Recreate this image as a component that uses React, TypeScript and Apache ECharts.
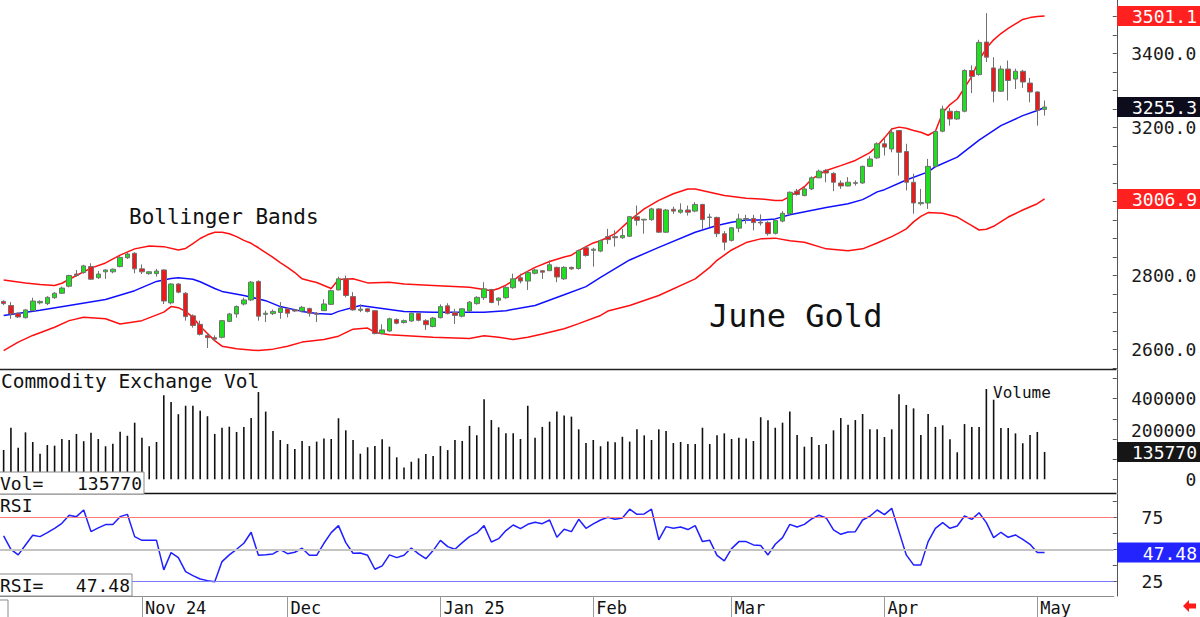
import React, { useEffect, useRef } from 'react';
import * as echarts from 'echarts';

const MONO = '"DejaVu Sans Mono", monospace';

// Trading sessions shown on the chart, grouped by month
const sessionDays: [string, number[]][] = [
  ['2024-10', [7, 8, 9, 10, 11, 14, 15, 16, 17, 18, 21, 22, 23, 24, 25, 28, 29, 30, 31]],
  ['2024-11', [1, 4, 5, 6, 7, 8, 11, 12, 13, 14, 15, 18, 19, 20, 21, 22, 25, 26, 27, 29]],
  ['2024-12', [2, 3, 4, 5, 6, 9, 10, 11, 12, 13, 16, 17, 18, 19, 20, 23, 24, 26, 27, 30, 31]],
  ['2025-01', [2, 3, 6, 7, 8, 9, 10, 13, 14, 15, 16, 17, 21, 22, 23, 24, 27, 28, 29, 30, 31]],
  ['2025-02', [3, 4, 5, 6, 7, 10, 11, 12, 13, 14, 18, 19, 20, 21, 24, 25, 26, 27, 28]],
  ['2025-03', [3, 4, 5, 6, 7, 10, 11, 12, 13, 14, 17, 18, 19, 20, 21, 24, 25, 26, 27, 28, 31]],
  ['2025-04', [1, 2, 3, 4, 7, 8, 9, 10, 11, 14, 15, 16, 17, 21, 22, 23, 24, 25, 28, 29, 30]],
  ['2025-05', [1, 2]],
];
const dates: string[] = sessionDays.flatMap(([m, days]) =>
  days.map((d) => `${m}-${String(d).padStart(2, '0')}`)
);
// empty slots to the right of the last session
const EMPTY_SLOTS = 9;
const categories: string[] = [
  ...dates,
  ...Array.from({ length: EMPTY_SLOTS }, (_, i) => `blank-${i + 1}`),
];

const monthLabels: Record<string, string> = {
  '2024-11': 'Nov 24',
  '2024-12': 'Dec',
  '2025-01': 'Jan 25',
  '2025-02': 'Feb',
  '2025-03': 'Mar',
  '2025-04': 'Apr',
  '2025-05': 'May',
};

// June gold futures, daily OHLC
const opens = [
  2730, 2719, 2698, 2686, 2705, 2726, 2724, 2740, 2752, 2771,
  2804, 2808, 2824, 2794, 2810, 2810, 2824, 2848, 2860, 2818,
  2805, 2805, 2815, 2726, 2777, 2752, 2691, 2668, 2638, 2632,
  2633, 2676, 2696, 2723, 2734, 2784, 2695, 2697, 2700, 2710,
  2707, 2704, 2711, 2698, 2705, 2722, 2761, 2791, 2743, 2706,
  2710, 2705, 2643, 2650, 2681, 2673, 2677, 2698, 2678, 2662,
  2686, 2718, 2700, 2690, 2704, 2724, 2740, 2762, 2733, 2740,
  2767, 2794, 2785, 2806, 2813, 2813, 2822, 2791, 2822, 2819,
  2875, 2868, 2866, 2905, 2905, 2902, 2906, 2959, 2950, 2951,
  2980, 2917, 2979, 2971, 2977, 2974, 2992, 2957, 2957, 2913,
  2895, 2928, 2952, 2954, 2944, 2943, 2914, 2947, 2967, 3028,
  3016, 3034, 3064, 3084, 3076, 3050, 3042, 3049, 3050, 3095,
  3118, 3156, 3142, 3192, 3135, 3052, 2994, 2996, 3095, 3190,
  3244, 3223, 3244, 3354, 3343, 3431, 3361, 3298, 3358, 3331,
  3352, 3320, 3296, 3249,
];
const closes = [
  2724, 2696, 2688, 2707, 2731, 2730, 2741, 2752, 2766, 2800,
  2800, 2826, 2790, 2804, 2815, 2817, 2849, 2858, 2818, 2810,
  2810, 2812, 2731, 2777, 2755, 2689, 2665, 2641, 2632, 2628,
  2678, 2696, 2716, 2734, 2782, 2690, 2698, 2703, 2712, 2698,
  2704, 2714, 2698, 2695, 2723, 2759, 2791, 2746, 2707, 2709,
  2703, 2643, 2653, 2683, 2671, 2678, 2698, 2679, 2667, 2685,
  2716, 2697, 2692, 2710, 2728, 2741, 2764, 2727, 2739, 2768,
  2791, 2785, 2808, 2815, 2809, 2829, 2796, 2822, 2818, 2867,
  2854, 2871, 2894, 2897, 2902, 2908, 2959, 2949, 2952, 2980,
  2917, 2977, 2974, 2977, 2971, 2992, 2951, 2958, 2913, 2890,
  2929, 2953, 2954, 2943, 2942, 2913, 2949, 2968, 3025, 3019,
  3034, 3064, 3082, 3077, 3052, 3042, 3052, 3051, 3095, 3115,
  3156, 3147, 3187, 3133, 3052, 2996, 2997, 3095, 3189, 3250,
  3223, 3243, 3354, 3338, 3430, 3390, 3298, 3358, 3327, 3352,
  3323, 3296, 3246, 3255.3,
];
const lows = [
  2720, 2683, 2685, 2684, 2704, 2722, 2720, 2737, 2750, 2768,
  2797, 2805, 2788, 2791, 2791, 2806, 2822, 2845, 2806, 2804,
  2802, 2797, 2723, 2722, 2752, 2678, 2659, 2638, 2604, 2624,
  2630, 2674, 2686, 2719, 2731, 2678, 2674, 2693, 2683, 2687,
  2701, 2700, 2689, 2674, 2704, 2720, 2760, 2741, 2705, 2701,
  2700, 2641, 2641, 2648, 2668, 2670, 2675, 2676, 2653, 2660,
  2684, 2695, 2669, 2687, 2701, 2721, 2734, 2725, 2719, 2737,
  2764, 2779, 2761, 2803, 2791, 2812, 2782, 2788, 2815, 2816,
  2851, 2824, 2863, 2885, 2878, 2899, 2904, 2935, 2913, 2948,
  2915, 2915, 2967, 2967, 2962, 2971, 2926, 2931, 2904, 2868,
  2892, 2917, 2940, 2922, 2935, 2908, 2911, 2944, 2964, 3016,
  3014, 3031, 3063, 3052, 3028, 3034, 3041, 3043, 3048, 3093,
  3115, 3124, 3133, 3070, 3030, 2967, 2989, 2980, 3093, 3187,
  3205, 3221, 3241, 3293, 3340, 3377, 3268, 3296, 3273, 3304,
  3307, 3268, 3205, 3232,
];
const highs = [
  2733, 2728, 2700, 2709, 2740, 2733, 2744, 2755, 2770, 2802,
  2815, 2829, 2833, 2812, 2817, 2819, 2852, 2862, 2863, 2830,
  2812, 2818, 2817, 2779, 2779, 2755, 2695, 2678, 2642, 2638,
  2680, 2699, 2719, 2740, 2785, 2787, 2705, 2708, 2728, 2714,
  2710, 2718, 2713, 2701, 2736, 2762, 2797, 2800, 2755, 2722,
  2712, 2706, 2668, 2686, 2684, 2681, 2700, 2700, 2682, 2688,
  2722, 2725, 2710, 2712, 2731, 2744, 2782, 2764, 2741, 2771,
  2805, 2805, 2812, 2818, 2815, 2841, 2824, 2825, 2824, 2870,
  2878, 2875, 2897, 2926, 2922, 2926, 2961, 2989, 2953, 2983,
  2982, 2980, 2986, 2995, 2989, 2998, 2994, 2967, 2959, 2920,
  2931, 2967, 2964, 2964, 2965, 2947, 2950, 2974, 3027, 3034,
  3040, 3068, 3086, 3088, 3079, 3057, 3066, 3057, 3097, 3122,
  3160, 3169, 3199, 3193, 3156, 3075, 3034, 3115, 3192, 3259,
  3253, 3246, 3357, 3368, 3437, 3509, 3390, 3367, 3381, 3359,
  3356, 3334, 3298, 3273,
];

// Bollinger bands, [session index, price]
const upperBand: [number, number][] = [
  [0, 2788], [3, 2780], [5, 2776], [7, 2773], [8, 2779], [10, 2800], [12, 2820], [14, 2834],
  [16, 2855], [18, 2872], [20, 2880], [22, 2878], [24, 2869], [25, 2873], [26, 2886], [27, 2900],
  [28, 2910], [29, 2917], [30, 2917], [31, 2913], [32, 2905], [33, 2895], [34, 2887], [35, 2875],
  [36, 2862], [37, 2849], [38, 2835], [39, 2822], [40, 2808], [41, 2791], [42, 2786], [43, 2781],
  [44, 2773], [45, 2765], [46, 2789], [48, 2791], [50, 2780], [53, 2782], [55, 2777], [59, 2773],
  [64, 2768], [66, 2762], [67, 2759], [68, 2765], [69, 2774], [70, 2786], [71, 2801], [73, 2822],
  [75, 2838], [77, 2850], [78, 2855], [79, 2867], [80, 2878], [81, 2888], [82, 2894], [84, 2913],
  [86, 2949], [88, 2980], [90, 3003], [92, 3021], [94, 3034], [95, 3034], [97, 3025], [99, 3016],
  [102, 3009], [104, 3007], [106, 3003], [107, 3003], [108, 3014], [109, 3027], [110, 3040],
  [111, 3060], [112, 3073], [113, 3084], [115, 3097], [117, 3111], [119, 3132], [120, 3150],
  [121, 3172], [122, 3196], [123, 3201], [124, 3198], [125, 3192], [126, 3187], [127, 3179],
  [128, 3190], [129, 3240], [130, 3262], [131, 3277], [132, 3307], [133, 3338], [134, 3382],
  [135, 3414], [136, 3437], [137, 3454], [138, 3468], [139, 3480], [140, 3492], [141, 3497],
  [142, 3500], [143, 3501.1],
];
const middleBand: [number, number][] = [
  [0, 2692], [5, 2706], [9, 2719], [14, 2735], [18, 2759], [21, 2784], [23, 2792], [24, 2794],
  [26, 2790], [27, 2783], [29, 2765], [30, 2757], [33, 2746], [36, 2732], [38, 2716], [41, 2703],
  [43, 2697], [45, 2695], [46, 2703], [49, 2719], [52, 2711], [55, 2703], [59, 2701], [66, 2701],
  [69, 2705], [73, 2719], [77, 2748], [80, 2770], [82, 2795], [86, 2842], [90, 2876], [95, 2917],
  [98, 2935], [100, 2944], [102, 2950], [104, 2950], [106, 2953], [108, 2964], [113, 2984],
  [116, 2994], [118, 3005], [119, 3015], [120, 3026], [121, 3032], [124, 3058], [127, 3080],
  [128, 3094], [131, 3120], [134, 3166], [137, 3205], [140, 3232], [142, 3246], [143, 3254],
];
const lowerBand: [number, number][] = [
  [0, 2597], [2, 2620], [4, 2638], [7, 2660], [9, 2678], [11, 2687], [14, 2683], [16, 2669],
  [19, 2678], [22, 2701], [23, 2716], [24, 2713], [25, 2703], [26, 2687], [27, 2663], [28, 2643],
  [29, 2624], [30, 2609], [32, 2602], [35, 2597], [37, 2601], [39, 2609], [41, 2620], [44, 2627],
  [46, 2636], [48, 2655], [50, 2658], [51, 2646], [53, 2640], [59, 2633], [64, 2630], [66, 2637],
  [68, 2633], [70, 2627], [72, 2633], [74, 2642], [77, 2656], [79, 2670], [82, 2692], [83, 2704],
  [86, 2719], [90, 2746], [95, 2791], [97, 2822], [98, 2841], [99, 2855], [100, 2869], [102, 2889],
  [104, 2899], [106, 2901], [108, 2894], [110, 2890], [113, 2872], [116, 2867], [118, 2872],
  [120, 2888], [122, 2905], [123, 2915], [124, 2926], [125, 2945], [126, 2960], [127, 2970],
  [129, 2968], [131, 2958], [133, 2935], [134, 2923], [135, 2925], [136, 2933], [138, 2958],
  [140, 2977], [142, 2994], [143, 3006.9],
];

// Commodity Exchange volume
const volumes = [
  145000, 256000, 157000, 233000, 185000, 127000, 170000, 167000, 200000, 195000,
  225000, 189000, 231000, 200000, 164000, 177000, 236000, 216000, 281000, 206000,
  164000, 185000, 417000, 384000, 323000, 365000, 365000, 340000, 313000, 225000,
  256000, 261000, 235000, 260000, 304000, 433000, 336000, 240000, 195000, 175000,
  150000, 190000, 165000, 187000, 203000, 200000, 303000, 243000, 195000, 127000,
  159000, 165000, 199000, 162000, 109000, 58000, 87000, 104000, 126000, 116000,
  165000, 145000, 195000, 190000, 265000, 218000, 397000, 294000, 258000, 228000,
  228000, 200000, 365000, 206000, 260000, 286000, 336000, 316000, 311000, 248000,
  180000, 195000, 164000, 187000, 184000, 211000, 187000, 248000, 218000, 195000,
  248000, 240000, 180000, 185000, 175000, 175000, 256000, 175000, 218000, 228000,
  200000, 206000, 203000, 190000, 308000, 293000, 256000, 281000, 336000, 220000,
  162000, 210000, 170000, 175000, 243000, 304000, 271000, 294000, 324000, 248000,
  248000, 210000, 248000, 422000, 369000, 352000, 220000, 324000, 260000, 268000,
  199000, 134000, 274000, 260000, 260000, 448000, 395000, 255000, 255000, 228000,
  179000, 220000, 235000, 135770,
];

// Relative Strength Index
const rsi = [
  60.4, 50, 45.6, 53.4, 61, 59.9, 63, 66.4, 70.3, 76.6,
  75.5, 80.7, 63.8, 66.7, 69.3, 69.3, 75.5, 77.3, 59.9, 57,
  57, 57, 33.9, 47.4, 43.5, 32.6, 29.4, 26.8, 25.5, 24.7,
  40.4, 45.6, 50, 54.7, 63.3, 45.3, 45.8, 46.4, 49.7, 46.6,
  47.7, 50.8, 45.3, 45.3, 54.7, 63, 68.5, 55.2, 46.9, 47.1,
  45.3, 34.4, 37, 45.6, 43.5, 45.3, 51, 46.4, 42.7, 49,
  57, 52.1, 50, 55.2, 59.9, 62.8, 68.5, 55.7, 58.3, 64.6,
  69, 66.1, 69.5, 71.1, 70, 72.9, 59.4, 65.6, 63.8, 73.4,
  66.4, 69.8, 72.9, 75, 73.4, 74.5, 81.3, 77.3, 77.6, 81.3,
  57.3, 67.7, 66.4, 67.4, 65.4, 68.5, 56, 57, 45.3, 40.9,
  50.5, 56, 56, 53.4, 52.9, 45.6, 53.9, 59.1, 69.5, 67.4,
  69.5, 73.7, 76.6, 74.5, 65.1, 61.7, 63.5, 63.8, 72.9, 75.8,
  80.7, 77.1, 82, 63.8, 45.6, 37.8, 37.8, 56, 66.4, 70.8,
  66.4, 68.2, 76, 73.4, 78.6, 70.8, 59.1, 63.3, 59.4, 61.2,
  57.8, 53.9, 47.4, 47.48,
];

// Axis tick labels
const priceTickLabels = [2600, 2800, 3200, 3400];
const volumeTickLabels = [0, 400000];
const volumeMidLabel = 200000; // sits just above the current-volume readout
const rsiTickLabels = [25, 75];
const rsiLevels = [75, 50, 25];

const monthStart = new Set<number>();
dates.forEach((d, i) => {
  const m = d.slice(0, 7);
  if (monthLabels[m] && (i === 0 || dates[i - 1].slice(0, 7) !== m)) monthStart.add(i);
});

const GRID_LEFT = -3.15;
const GRID_RIGHT = 86.25;
const AXIS_X = 1116.5;

function range(a: number, b: number, step: number): number[] {
  const out: number[] = [];
  for (let v = a; v <= b + 1e-9; v += step) out.push(v);
  return out;
}

function buildOption(): echarts.EChartsOption {
  const xBase = {
    type: 'category' as const,
    data: categories,
    boundaryGap: true,
  };
  const yBase = {
    type: 'value' as const,
    position: 'right' as const,
    offset: 3,
    scale: false,
    splitLine: { show: false },
    axisLine: { show: true, lineStyle: { color: '#555', width: 1 } },
  };
  const labelBase = {
    fontFamily: MONO,
    fontSize: 18,
    color: '#1a1a1a',
    align: 'right' as const,
  };
  return {
    animation: false,
    backgroundColor: '#ffffff',
    grid: [
      { left: GRID_LEFT, right: GRID_RIGHT, top: 0, height: 369 },
      { left: GRID_LEFT, right: GRID_RIGHT, top: 370, height: 123 },
      { left: GRID_LEFT, right: GRID_RIGHT, top: 494, height: 102 },
    ],
    xAxis: [
      { ...xBase, gridIndex: 0, show: false },
      { ...xBase, gridIndex: 1, show: false },
      {
        ...xBase,
        gridIndex: 2,
        axisLine: { show: true, lineStyle: { color: '#8c8c8c', width: 1 } },
        axisTick: {
          show: true,
          alignWithLabel: true,
          interval: (idx: number) => monthStart.has(idx),
          length: 21,
          lineStyle: { color: '#9a9a9a', width: 1 },
        },
        axisLabel: {
          interval: (idx: number) => monthStart.has(idx),
          formatter: (v: string) => monthLabels[v.slice(0, 7)] ?? '',
          align: 'left',
          margin: 3,
          padding: [0, 0, 0, 3],
          fontFamily: MONO,
          fontSize: 17,
          color: '#111',
        },
      },
    ],
    yAxis: [
      {
        ...yBase,
        gridIndex: 0,
        min: 2547.3,
        max: 3544.6,
        axisTick: { show: true, inside: true, length: 4, customValues: range(2550, 3500, 50), lineStyle: { color: '#555' } },
        axisLabel: { ...labelBase, margin: 79.5, customValues: priceTickLabels, formatter: (v: number) => v.toFixed(1) },
      },
      {
        ...yBase,
        gridIndex: 1,
        min: -68000,
        max: 542400,
        axisTick: { show: true, inside: true, length: 4, customValues: range(0, 500000, 100000), lineStyle: { color: '#555' } },
        axisLabel: { ...labelBase, margin: 79.5, customValues: volumeTickLabels, formatter: (v: number) => String(v) },
      },
      {
        ...yBase,
        gridIndex: 2,
        min: 13.5,
        max: 93.2,
        axisTick: { show: true, inside: true, length: 4, customValues: range(25, 87.5, 12.5), lineStyle: { color: '#555' } },
        axisLabel: { ...labelBase, margin: 46.5, customValues: rsiTickLabels, formatter: (v: number) => String(v) },
      },
    ],
    series: [
      {
        name: 'Upper band',
        type: 'line',
        xAxisIndex: 0,
        yAxisIndex: 0,
        data: upperBand,
        showSymbol: false,
        lineStyle: { color: '#ff1010', width: 1.5 },
        z: 2,
      },
      {
        name: 'Middle band',
        type: 'line',
        xAxisIndex: 0,
        yAxisIndex: 0,
        data: middleBand,
        showSymbol: false,
        lineStyle: { color: '#1010ff', width: 1.5 },
        z: 2,
      },
      {
        name: 'Lower band',
        type: 'line',
        xAxisIndex: 0,
        yAxisIndex: 0,
        data: lowerBand,
        showSymbol: false,
        lineStyle: { color: '#ff1010', width: 1.5 },
        z: 2,
      },
      {
        name: 'June Gold',
        type: 'candlestick',
        xAxisIndex: 0,
        yAxisIndex: 0,
        barWidth: 5,
        data: opens.map((o, i) => [o, closes[i], lows[i], highs[i]]),
        itemStyle: {
          color: '#1fe01f',
          color0: '#f01818',
          borderColor: '#707070',
          borderColor0: '#707070',
          borderWidth: 1,
        },
        z: 3,
      },
      {
        name: 'Volume',
        type: 'bar',
        xAxisIndex: 1,
        yAxisIndex: 1,
        data: volumes,
        barWidth: 1.6,
        itemStyle: { color: '#111' },
      },
      {
        name: 'RSI',
        type: 'line',
        xAxisIndex: 2,
        yAxisIndex: 2,
        data: rsi,
        showSymbol: false,
        lineStyle: { color: '#1f1fff', width: 1.5 },
        z: 3,
        markLine: {
          silent: true,
          symbol: 'none',
          label: { show: false },
          data: [
            { yAxis: rsiLevels[0], lineStyle: { color: '#ff7a7a', width: 1, type: 'solid' } },
            { yAxis: rsiLevels[1], lineStyle: { color: '#c4c4c4', width: 2, type: 'solid' } },
            { yAxis: rsiLevels[2], lineStyle: { color: '#7a7aff', width: 1, type: 'solid' } },
          ],
        },
      },
    ],
  };
}

function txt(text: string, x: number, y: number, size: number, opts: Record<string, unknown> = {}) {
  return {
    type: 'text',
    z: 100,
    style: {
      text,
      x,
      y,
      fontFamily: MONO,
      fontSize: size,
      fill: '#111',
      align: 'left',
      verticalAlign: 'middle',
      ...opts,
    },
  };
}

export default function App() {
  const ref = useRef<HTMLDivElement>(null);

  useEffect(() => {
    const el = ref.current;
    if (!el) return;
    const chart = echarts.init(el, null, { renderer: 'svg' });
    chart.setOption(buildOption());

    const py = (axis: number, v: number) => chart.convertToPixel({ yAxisIndex: axis }, v) as number;
    const last = dates.length - 1;

    const valueBoxes = [
      { axis: 0, value: upperBand[upperBand.length - 1][1], text: upperBand[upperBand.length - 1][1].toFixed(1), fill: '#ff2020' },
      { axis: 0, value: closes[last], text: closes[last].toFixed(1), fill: '#0c0c1c' },
      { axis: 0, value: lowerBand[lowerBand.length - 1][1], text: lowerBand[lowerBand.length - 1][1].toFixed(1), fill: '#ff2020' },
      { axis: 1, value: volumes[last], text: String(volumes[last]), fill: '#161616' },
      { axis: 2, value: rsi[last], text: rsi[last].toFixed(2), fill: '#2424ff' },
    ];

    const graphics: any[] = [
      // panel separators
      { type: 'line', z: 90, shape: { x1: 0, y1: 369.5, x2: AXIS_X, y2: 369.5 }, style: { stroke: '#222', lineWidth: 1.5 } },
      { type: 'line', z: 90, shape: { x1: 0, y1: 493.5, x2: AXIS_X, y2: 493.5 }, style: { stroke: '#111', lineWidth: 1.5 } },
      // annotations
      txt('Bollinger Bands', 129, 217, 21),
      txt('June Gold', 709, 316, 32),
      txt('Commodity Exchange Vol', 1, 381, 19.5),
      txt('Volume', 993, 392.5, 16),
      txt('RSI', 0, 505.5, 18),
      // middle volume scale label, lifted clear of the readout box below it
      txt(String(volumeMidLabel), 1196, py(1, volumeMidLabel) - 8, 18, { align: 'right', fill: '#1a1a1a' }),
      // current-value readouts, lower left
      { type: 'rect', z: 95, shape: { x: -1, y: 472, width: 145, height: 22 }, style: { fill: '#fff', stroke: '#8a8a8a', lineWidth: 1 } },
      txt('Vol=', 0, 483, 18),
      txt(String(volumes[last]), 142, 483, 18, { align: 'right' }),
      { type: 'rect', z: 95, shape: { x: -1, y: 574, width: 133, height: 22 }, style: { fill: '#fff', stroke: '#8a8a8a', lineWidth: 1 } },
      txt('RSI=', 0, 585, 18),
      txt(rsi[last].toFixed(2), 130, 585, 18, { align: 'right' }),
      // small frame at the lower left corner
      { type: 'rect', z: 95, shape: { x: -3, y: 600, width: 11, height: 20 }, style: { fill: 'none', stroke: '#8a8a8a', lineWidth: 1 } },
      // scroll arrow
      {
        type: 'polygon',
        z: 95,
        shape: {
          points: [[1183, 606], [1189, 600], [1189, 603.5], [1196, 603.5], [1196, 608.5], [1189, 608.5], [1189, 612]],
        },
        style: { fill: '#ff1a1a' },
      },
    ];

    valueBoxes.forEach((b) => {
      const y = py(b.axis, b.value);
      graphics.push({
        type: 'rect',
        z: 98,
        shape: { x: AXIS_X + 0.5, y: y - 10, width: 1200 - AXIS_X, height: 20 },
        style: { fill: b.fill },
      });
      graphics.push(txt(b.text, 1197, y + 0.5, 18, { align: 'right', fill: '#ffffff' }));
    });

    chart.setOption({ graphic: graphics });
    return () => chart.dispose();
  }, []);

  return (
    <div
      ref={ref}
      style={{ position: 'absolute', left: 0, top: 0, width: 1200, height: 617, background: '#fff' }}
    />
  );
}
